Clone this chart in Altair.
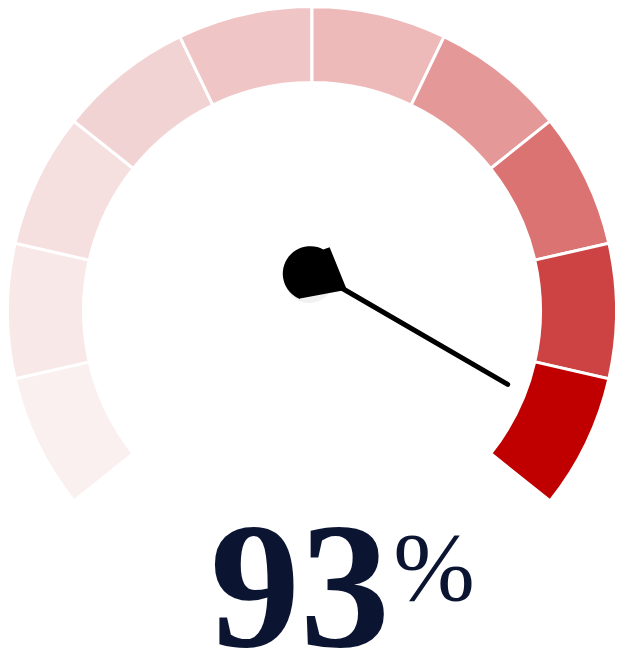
import math
import altair as alt
import pandas as pd

# ---- data ----
seg_start = [0, 10, 20, 30, 40, 50, 60, 70, 80, 90]
seg_end = [10, 20, 30, 40, 50, 60, 70, 80, 90, 100]
seg_colors = ["#faf0f0", "#f8e8e8", "#f6dfdf", "#f2d3d3", "#f0c5c6",
              "#edb9b9", "#e59898", "#db7373", "#cd4343", "#c00000"]
value = [93]
label_number = ["93"]
label_suffix = ["%"]

# ---- layout / style constants ----
W, H = 607, 643
CX, CY = 304, 303          # gauge centre in px (inside the plot)
R_OUT, R_IN = 303, 230
R_TIP = 209
HUB_DX, HUB_DY = 2, 39
SPAN = math.radians(360 * 5 / 7)
START = 2 * math.pi - SPAN / 2
END = START + SPAN

xs = alt.Scale(domain=[-CX / R_OUT, (W - CX) / R_OUT], nice=False, zero=False)
ys = alt.Scale(domain=[-(H - CY) / R_OUT, CY / R_OUT], nice=False, zero=False)
ts = alt.Scale(domain=[0, 100], range=[START, END])

seg_df = pd.DataFrame({"start": seg_start, "end": seg_end, "color": seg_colors})

arcs = alt.Chart(seg_df).mark_arc(stroke="white", strokeWidth=3).encode(
    x=alt.X(datum=0, scale=xs, axis=None),
    y=alt.Y(datum=0, scale=ys, axis=None),
    theta=alt.Theta("start:Q", scale=ts, stack=None),
    theta2="end:Q",
    radius=alt.value(R_OUT + 1.5),
    radius2=alt.value(R_IN - 1.5),
    color=alt.Color("color:N", scale=None),
)

# needle geometry derived from the value through the same angle mapping
ang = [START + v / 100 * (END - START) for v in value]
needle_df = pd.DataFrame({
    "hx": [HUB_DX / R_OUT for _ in value],
    "hy": [HUB_DY / R_OUT for _ in value],
    "tx": [R_TIP / R_OUT * math.sin(a) for a in ang],
    "ty": [R_TIP / R_OUT * math.cos(a) for a in ang],
})

needle = alt.Chart(needle_df).mark_rule(
    color="black", strokeWidth=5, strokeCap="round"
).encode(
    x=alt.X("hx:Q", scale=xs, axis=None),
    y=alt.Y("hy:Q", scale=ys, axis=None),
    x2="tx:Q",
    y2="ty:Q",
)

# hub shape (symbol path, unit ~ 27px)
cxh, cyh, rh = -0.14, 0.06, 1.02
a0, a1 = math.radians(112), math.radians(298.3)
pts = ["M0.58,-0.92", "L1.22,0.66", "L-0.52,0.98"]
n = 28
for i in range(n + 1):
    a = a0 + (a1 - a0) * i / n
    pts.append("L%.3f,%.3f" % (cxh + rh * math.cos(a), cyh + rh * math.sin(a)))
pts.append("Z")
hub_path = " ".join(pts)

shadow = alt.Chart(needle_df).mark_point(
    shape="circle", filled=True, size=2500, color="#888888", opacity=0.12
).encode(
    x=alt.X("hx:Q", scale=xs, axis=None),
    y=alt.Y("hy:Q", scale=ys, axis=None),
    xOffset=alt.value(-5),
    yOffset=alt.value(6),
)

hub = alt.Chart(needle_df).mark_point(
    shape=hub_path, filled=True, size=2900, color="black", opacity=1, strokeWidth=0
).encode(
    x=alt.X("hx:Q", scale=xs, axis=None),
    y=alt.Y("hy:Q", scale=ys, axis=None),
)

num = alt.Chart(pd.DataFrame({"t": label_number})).mark_text(
    font="Liberation Serif", fontSize=180, fontWeight="bold", color="#0b1532",
    align="center", baseline="alphabetic"
).encode(text="t:N", x=alt.value(292), y=alt.value(638))

pct = alt.Chart(pd.DataFrame({"t": label_suffix})).mark_text(
    font="Liberation Serif", fontSize=98, color="#0b1532",
    align="center", baseline="alphabetic"
).encode(text="t:N", x=alt.value(426), y=alt.value(592))

chart = alt.layer(arcs, needle, shadow, hub, num, pct).properties(
    width=W, height=H, padding=0, autosize=alt.AutoSizeParams(type="none")
).configure_view(stroke=None)

chart.save("out.html", embed_options={"renderer": "svg", "actions": False})
